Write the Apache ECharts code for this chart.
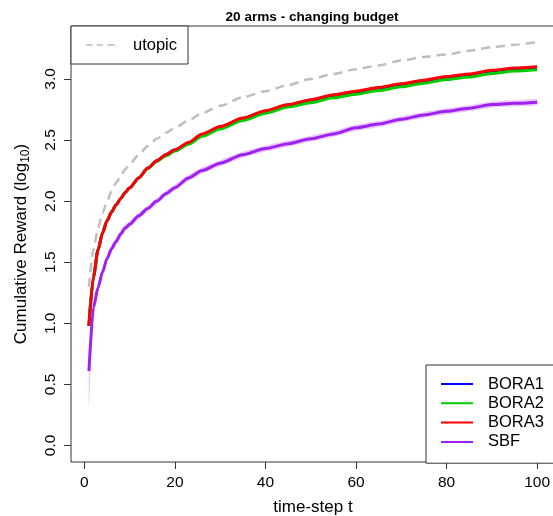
<!DOCTYPE html>
<html>
<head>
<meta charset="utf-8">
<script src="https://cdn.jsdelivr.net/npm/echarts@6/dist/echarts.min.js"></script>
<style>html,body{margin:0;padding:0;background:#fff;}#c{width:553px;height:516px;}</style>
</head>
<body>
<div id="c"></div>
<script>
const steps  = [1,2,3,4,5,6,7,8,9,10,12,14,16,18,20,23,26,30,35,40,45,50,55,60,65,70,75,80,85,90,95,100];
const utopic = [1.30,1.60,1.78,1.90,2.00,2.08,2.15,2.20,2.26,2.30,2.38,2.45,2.51,2.56,2.60,2.66,2.72,2.78,2.85,2.90,2.95,3.00,3.04,3.08,3.11,3.15,3.18,3.20,3.23,3.26,3.28,3.30];
const bora1  = [0.98,1.38,1.60,1.74,1.84,1.91,1.97,2.02,2.07,2.11,2.19,2.27,2.33,2.38,2.42,2.475,2.545,2.605,2.675,2.735,2.785,2.825,2.865,2.895,2.925,2.955,2.985,3.015,3.035,3.065,3.085,3.095];
const bora2  = [0.98,1.38,1.60,1.74,1.84,1.91,1.97,2.02,2.07,2.11,2.19,2.265,2.325,2.37,2.41,2.465,2.53,2.59,2.66,2.72,2.77,2.805,2.845,2.875,2.905,2.935,2.965,2.995,3.015,3.045,3.065,3.075];
const bora3  = [0.98,1.38,1.60,1.74,1.84,1.91,1.97,2.02,2.07,2.11,2.19,2.27,2.33,2.38,2.42,2.48,2.55,2.61,2.68,2.74,2.79,2.83,2.87,2.90,2.93,2.96,2.99,3.02,3.04,3.07,3.09,3.10];
const sbf    = [0.61,1.13,1.29,1.42,1.53,1.61,1.67,1.73,1.78,1.81,1.88,1.94,2.00,2.06,2.11,2.19,2.25,2.31,2.38,2.43,2.47,2.51,2.55,2.60,2.63,2.67,2.705,2.735,2.76,2.79,2.80,2.81];
const sbfLo  = [0.32,1.05,1.25,1.39,1.50,1.58,1.64,1.70,1.75,1.785,1.855,1.915,1.975,2.035,2.085,2.165,2.225,2.285,2.355,2.405,2.445,2.485,2.525,2.575,2.605,2.645,2.68,2.71,2.735,2.765,2.775,2.785];
const sbfHi  = [0.64,1.17,1.32,1.45,1.56,1.64,1.70,1.76,1.81,1.835,1.905,1.965,2.025,2.085,2.135,2.215,2.275,2.335,2.405,2.455,2.495,2.535,2.575,2.625,2.655,2.695,2.73,2.76,2.785,2.815,2.825,2.835];
const xTicks = [0,20,40,60,80,100];
const yTicks = [0,0.5,1,1.5,2,2.5,3];

const pair = arr => steps.map((t,i)=>[t, arr[i]]);
const FONT = 'Liberation Sans, Arial, sans-serif';
// legend icons: solid line segment / dashed segment (bounding box padded with tiny specks)
const SOLID_ICON = 'path://M0,0L0.01,0L0,0.01Z M0,6L32,6L32,8L0,8Z M32,14L31.99,14L32,13.99Z';
const DASH_ICON  = 'path://M0,0L0.01,0L0,0.01Z M0,6.25L6.5,6.25L6.5,7.75L0,7.75Z M10.5,6.25L17,6.25L17,7.75L10.5,7.75Z M21.5,6.25L29,6.25L29,7.75L21.5,7.75Z M29,14L28.99,14L29,13.99Z';

const chart = echarts.init(document.getElementById('c'), null, {renderer:'canvas'});
const lineSeries = (name, data, color, extra) => Object.assign({
  name, type:'line', data: pair(data), symbol:'none', showSymbol:false,
  smooth:0.25, smoothMonotone:'x',
  lineStyle:{color, width:3}, itemStyle:{color}, animation:false, silent:true
}, extra||{});

chart.setOption({
  animation:false,
  title:{
    text:'20 arms - changing budget', left:307, top:5, textAlign:'center',
    textStyle:{fontFamily:FONT, fontSize:13.6, fontWeight:'bold', color:'#000'}
  },
  grid:{left:71, top:26, right:-2, bottom:54, containLabel:false, outerBoundsMode:'none',
    show:true, borderColor:'#333', borderWidth:1, backgroundColor:'transparent'},
  xAxis:{
    type:'value', min:-2.96, max:103.96,
    axisLine:{show:false, onZero:false},
    axisTick:{show:true, inside:false, length:7, lineStyle:{color:'#333'}, customValues:xTicks},
    axisLabel:{customValues:xTicks, margin:12.5, fontFamily:FONT, fontSize:15.5, color:'#000'},
    splitLine:{show:false},
    name:'time-step t', nameLocation:'middle', nameGap:36.5,
    nameTextStyle:{fontFamily:FONT, fontSize:17, color:'#000'}
  },
  yAxis:{
    type:'value', min:-0.135, max:3.433,
    axisLine:{show:false, onZero:false},
    axisTick:{show:true, inside:false, length:7, lineStyle:{color:'#333'}, customValues:yTicks},
    axisLabel:{customValues:yTicks, rotate:90, margin:12, fontFamily:FONT, fontSize:15.5, color:'#000',
      formatter:v=>v.toFixed(1)},
    splitLine:{show:false},
    name:'{a|Cumulative Reward (log}{s|10}{a|)}', nameLocation:'middle', nameRotate:90, nameGap:39,
    nameTextStyle:{fontFamily:FONT, fontSize:17, color:'#000',
      rich:{a:{fontFamily:FONT, fontSize:17, color:'#000', lineHeight:21},
            s:{fontFamily:FONT, fontSize:12, color:'#000', lineHeight:21, verticalAlign:'bottom', padding:[7,0,0,0]}}}
  },
  legend:[
    {
      data:[{name:'utopic', icon:DASH_ICON}], orient:'vertical', left:71, top:26,
      itemWidth:29, itemHeight:14, padding:[10.5,11,10.5,15],
      borderColor:'#333', borderWidth:1, backgroundColor:'#fff', borderRadius:0,
      textStyle:{fontFamily:FONT, fontSize:16.5, color:'#000', padding:[0,0,0,13]},
      selectedMode:false
    },
    {
      data:['BORA1','BORA2','BORA3','SBF'].map(n=>({name:n, icon:SOLID_ICON})),
      orient:'vertical', left:426, top:365,
      itemWidth:32, itemHeight:14, itemGap:2.3, padding:[10.5,30,12.8,15],
      borderColor:'#333', borderWidth:1, backgroundColor:'#fff', borderRadius:0,
      textStyle:{fontFamily:FONT, fontSize:16.5, color:'#000', padding:[0,0,0,10]},
      selectedMode:false
    }
  ],
  series:[
    {
      name:'sbfBand', type:'custom', clip:true, silent:true,
      data: steps.map((t,i)=>[t, sbfLo[i], sbfHi[i]]),
      encode:{x:0, y:[1,2]},
      renderItem:(params, api)=>{
        if (params.dataIndex !== 0) return null;
        const pts = [];
        for (let i=0;i<steps.length;i++) pts.push(api.coord([steps[i], sbfHi[i]]));
        for (let i=steps.length-1;i>=0;i--) pts.push(api.coord([steps[i], sbfLo[i]]));
        return {type:'polygon', shape:{points:pts, smooth:0.2}, style:{fill:'rgba(160,32,240,0.24)'}};
      }
    },
    lineSeries('BORA1', bora1, '#0000ff'),
    lineSeries('BORA2', bora2, '#00cd00'),
    lineSeries('BORA3', bora3, '#ff0000'),
    lineSeries('SBF', sbf, '#a020f0'),
    lineSeries('utopic', utopic, '#bebebe', {lineStyle:{color:'#bebebe', width:2.5, type:[9,6]}})
  ]
});
</script>
</body>
</html>
